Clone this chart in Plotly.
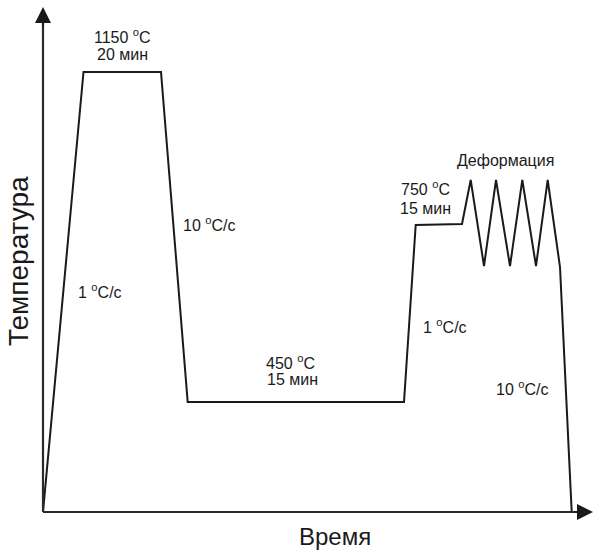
import plotly.graph_objects as go

# Schematic thermal cycle (arbitrary time / temperature units)
time_pts = [0, 40.5, 118, 144.7, 361, 372.7, 419, 427.7, 441, 453, 467, 479.3, 493, 504.7, 517, 528.7]
temp_pts = [0, 440, 440, 110, 110, 287, 288, 332, 246, 332, 246, 332, 246, 332, 245, 0]

label_texts = ["1150 <sup>o</sup>C", "20 мин", "10 <sup>o</sup>C/c", "1 <sup>o</sup>C/c",
               "450 <sup>o</sup>C", "15 мин", "750 <sup>o</sup>C", "15 мин",
               "1 <sup>o</sup>C/c", "Деформация", "10 <sup>o</sup>C/c"]
label_x = [79, 79, 166, 57, 247, 249, 382, 382, 402, 462, 479]
label_y = [476, 458, 288, 221, 150, 133, 324, 304, 186, 352, 124]

x_title = "Время"
y_title = "Температура"

FONT = "Arial, Liberation Sans, sans-serif"

fig = go.Figure()
fig.add_trace(go.Scatter(x=time_pts, y=temp_pts, mode="lines",
                         line=dict(color="#1a1a1a", width=2),
                         hoverinfo="skip", showlegend=False))

# axes with arrows
x_end, y_end = 550, 505
fig.add_shape(type="line", x0=0, y0=0, x1=x_end - 8, y1=0, line=dict(color="#2a2a2a", width=2.2))
fig.add_shape(type="line", x0=0, y0=0, x1=0, y1=y_end - 8, line=dict(color="#2a2a2a", width=2.2))
fig.add_annotation(x=x_end, y=0, ax=x_end - 20, ay=0, axref="x", ayref="y", xref="x", yref="y",
                   text="", showarrow=True, arrowhead=2, arrowsize=1.6, arrowwidth=2, arrowcolor="#1a1a1a")
fig.add_annotation(x=0, y=y_end, ax=0, ay=y_end - 20, axref="x", ayref="y", xref="x", yref="y",
                   text="", showarrow=True, arrowhead=2, arrowsize=1.6, arrowwidth=2, arrowcolor="#1a1a1a")

for t, lx, ly in zip(label_texts, label_x, label_y):
    fig.add_annotation(x=lx, y=ly, xref="x", yref="y", text=t, showarrow=False,
                       xanchor="center", yanchor="middle",
                       font=dict(family=FONT, size=16, color="#1a1a1a"))

fig.add_annotation(x=292, y=-24, xref="x", yref="y", text=x_title, showarrow=False,
                   xanchor="center", yanchor="middle",
                   font=dict(family=FONT, size=24, color="#1a1a1a"))
fig.add_annotation(x=-25, y=251, xref="x", yref="y", text=y_title, showarrow=False,
                   textangle=-90, xanchor="center", yanchor="middle",
                   font=dict(family=FONT, size=28, color="#1a1a1a"))

fig.update_xaxes(range=[-43, 552], visible=False, fixedrange=True)
fig.update_yaxes(range=[-43, 512], visible=False, fixedrange=True)
fig.update_layout(width=595, height=555, margin=dict(l=0, r=0, t=0, b=0),
                  plot_bgcolor="white", paper_bgcolor="white")

fig.write_html("out.html", config={"displayModeBar": False},
               post_script="document.body.style.margin='0px';document.body.style.overflow='hidden';")
